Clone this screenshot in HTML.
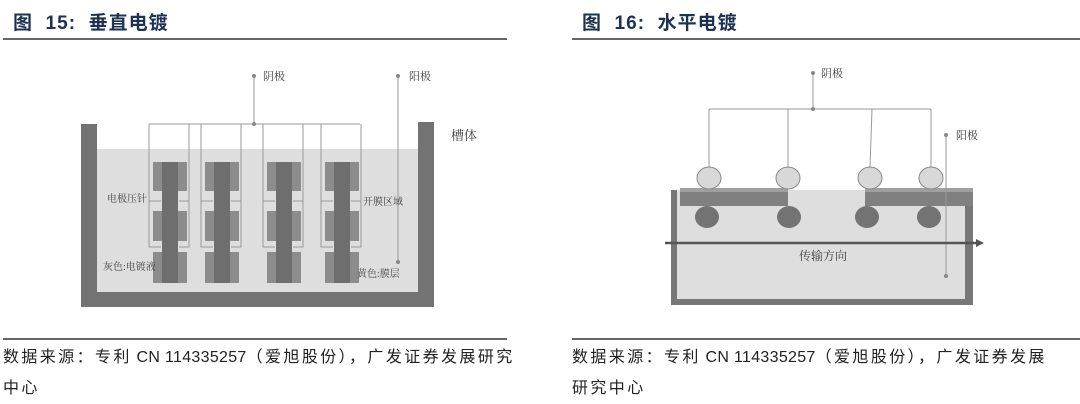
<!DOCTYPE html>
<html><head><meta charset="utf-8"><style>
body{margin:0;background:#fff;width:1080px;height:402px;overflow:hidden;position:relative;font-family:"Liberation Sans","Noto Sans CJK SC",sans-serif}
.t{position:absolute;top:8px;font-size:19px;font-weight:bold;color:#1f3350;letter-spacing:1px}
.s{position:absolute;font-size:16px;color:#222;line-height:31px;letter-spacing:2.4px;white-space:nowrap}
.s b{font-weight:normal;letter-spacing:0.3px}
</style></head><body>
<div class="t" style="left:13px">图&nbsp; 15:&nbsp; 垂直电镀</div>
<div class="t" style="left:582px">图&nbsp; 16:&nbsp; 水平电镀</div>
<div style="position:absolute;left:3px;top:38px;width:504px;height:2px;background:#666"></div>
<div style="position:absolute;left:572px;top:38px;width:508px;height:2px;background:#666"></div>
<div style="position:absolute;left:3px;top:338px;width:504px;height:2px;background:#666"></div>
<div style="position:absolute;left:572px;top:338px;width:508px;height:2px;background:#666"></div>
<div class="s" style="left:3px;top:342px">数据来源：专利<b> CN 114335257</b>（爱旭股份），广发证券发展研究<br>中心</div>
<div class="s" style="left:572px;top:342px">数据来源：专利<b> CN 114335257</b>（爱旭股份），广发证券发展<br>研究中心</div>
<svg width="1080" height="402" style="position:absolute;left:0;top:0" font-family="Liberation Serif,Noto Serif CJK SC,serif">
<rect x="97" y="149" width="321" height="143" fill="#dedede"/>
<rect x="81" y="124" width="16" height="183" fill="#737373"/>
<rect x="418" y="122" width="16" height="185" fill="#737373"/>
<rect x="81" y="292" width="353" height="15" fill="#737373"/>
<g stroke="#999" stroke-width="1" fill="none">
<line x1="254" y1="76" x2="254" y2="124"/>
<line x1="149" y1="124" x2="360" y2="124"/>
<line x1="398" y1="76" x2="398" y2="262"/>
</g>
<g fill="#888"><circle cx="254" cy="76" r="2"/><circle cx="254" cy="124" r="2"/><circle cx="398" cy="76" r="2"/><circle cx="398" cy="262" r="2"/></g>
<script>
(function(){
var svg=document.currentScript.parentNode;var ns="http://www.w3.org/2000/svg";
function el(t,a){var e=document.createElementNS(ns,t);for(var k in a)e.setAttribute(k,a[k]);svg.appendChild(e);return e;}
[170,222,284,342].forEach(function(c){
 [[162,191],[211,241],[252,283]].forEach(function(r){
  el("rect",{x:c-17,y:r[0],width:34,height:r[1]-r[0],fill:"#8c8c8c"});
 });
 el("rect",{x:c-8,y:162,width:16,height:121,fill:"#6e6e6e"});
 el("polyline",{points:(c-21)+",124 "+(c-21)+",247 "+(c-9)+",247",fill:"none",stroke:"#999","stroke-width":1});
 el("polyline",{points:(c+19)+",124 "+(c+19)+",247 "+(c+9)+",247",fill:"none",stroke:"#999","stroke-width":1});
 el("line",{x1:c-21,y1:201,x2:c-9,y2:201,stroke:"#999"});
 el("line",{x1:c+19,y1:201,x2:c+9,y2:201,stroke:"#999"});
});
})();
</script>
<g font-size="11" fill="#444">
<text x="263" y="80">阴极</text>
<text x="409" y="80">阳极</text>
<text x="451" y="140" font-size="13">槽体</text>
<text x="107" y="202" font-size="10">电极压针</text>
<text x="363" y="205" font-size="10">开膜区域</text>
<text x="103" y="270" font-size="10">灰色:电镀液</text>
<text x="357" y="277" font-size="10">黄色:膜层</text>
</g>
<rect x="677" y="190" width="288" height="109" fill="#dedede"/>
<rect x="671" y="190" width="6" height="115" fill="#777"/>
<rect x="965" y="205" width="8" height="100" fill="#777"/>
<rect x="671" y="299" width="302" height="6" fill="#777"/>
<rect x="680" y="188" width="108" height="18" fill="#808080"/>
<rect x="680" y="188" width="108" height="4" fill="#a0a0a0"/>
<rect x="865" y="188" width="108" height="18" fill="#808080"/>
<rect x="865" y="188" width="108" height="4" fill="#a0a0a0"/>
<g stroke="#999" fill="none">
<line x1="813" y1="73" x2="813" y2="109"/>
<line x1="709" y1="109" x2="931" y2="109"/>
<line x1="709" y1="109" x2="709" y2="167"/>
<line x1="788" y1="109" x2="788" y2="167"/>
<line x1="872" y1="109" x2="870" y2="167"/>
<line x1="931" y1="109" x2="931" y2="167"/>
<line x1="946" y1="135" x2="946" y2="276"/>
</g>
<g fill="#d8d8d8" stroke="#888" stroke-width="1">
<ellipse cx="709" cy="178" rx="12" ry="11"/><ellipse cx="788" cy="178" rx="12" ry="11"/>
<ellipse cx="870" cy="178" rx="12" ry="11"/><ellipse cx="931" cy="178" rx="12" ry="11"/>
</g>
<g fill="#737373">
<ellipse cx="707" cy="217" rx="12" ry="11"/><ellipse cx="789" cy="217" rx="12" ry="11"/>
<ellipse cx="867" cy="217" rx="12" ry="11"/><ellipse cx="929" cy="217" rx="12" ry="11"/>
</g>
<line x1="665" y1="243" x2="978" y2="243" stroke="#555" stroke-width="2.5"/>
<polygon points="984,243 976,239 976,247" fill="#555"/>
<g fill="#888"><circle cx="813" cy="73" r="2"/><circle cx="813" cy="109" r="2"/><circle cx="946" cy="135" r="2"/><circle cx="946" cy="276" r="2"/></g>
<g font-size="11" fill="#444">
<text x="821" y="77">阴极</text>
<text x="956" y="139">阳极</text>
<text x="799" y="260" font-size="12">传输方向</text>
</g>
</svg>
</body></html>
